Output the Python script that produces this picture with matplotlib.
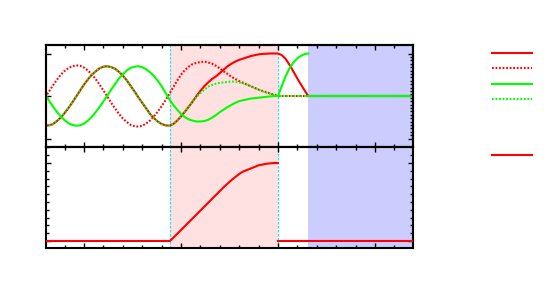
import numpy as np
import matplotlib
matplotlib.use("Agg")
import matplotlib.pyplot as plt
from matplotlib.ticker import MultipleLocator, FixedLocator

# time axis (major tick every 5)
t = [-2.0, -1.8, -1.6, -1.4, -1.2, -1.0, -0.8, -0.6, -0.4, -0.2,
     0.0, 0.2, 0.4, 0.6, 0.8, 1.0, 1.2, 1.4, 1.6, 1.8,
     2.0, 2.2, 2.4, 2.6, 2.8, 3.0, 3.2, 3.4, 3.6, 3.8,
     4.0, 4.2, 4.4, 4.6, 4.8, 5.0, 5.2, 5.4, 5.6, 5.8,
     6.0, 6.2, 6.4, 6.6, 6.8, 7.0, 7.2, 7.4, 7.6, 7.8,
     8.0, 8.2, 8.4, 8.6, 8.8, 9.0, 9.2, 9.4, 9.6, 9.8, 10.0]

red_solid = [-0.70, -0.69, -0.66, -0.59, -0.51, -0.40, -0.28, -0.15, -0.01, 0.13,
             0.27, 0.39, 0.50, 0.58, 0.65, 0.69, 0.70, 0.68, 0.64, 0.57,
             0.48, 0.37, 0.24, 0.11, -0.03, -0.16, -0.29, -0.42, -0.52, -0.60,
             -0.66, -0.69, -0.70, -0.66, -0.58, -0.48, -0.37, -0.25, -0.13, 0.00,
             0.12, 0.23, 0.32, 0.40, 0.46, 0.54, 0.62, 0.70, 0.76, 0.81,
             0.85, 0.88, 0.91, 0.94, 0.96, 0.98, 0.99, 0.995, 1.0, 1.0, 1.0]
red_dotted = [-0.03, 0.11, 0.25, 0.38, 0.50, 0.59, 0.66, 0.70, 0.72, 0.71,
              0.67, 0.60, 0.51, 0.40, 0.27, 0.13, -0.01, -0.16, -0.29, -0.42,
              -0.53, -0.61, -0.68, -0.71, -0.72, -0.70, -0.65, -0.58, -0.48, -0.37,
              -0.24, -0.10, 0.05, 0.21, 0.36, 0.50, 0.61, 0.69, 0.75, 0.78,
              0.80, 0.81, 0.79, 0.76, 0.71, 0.65, 0.58, 0.52, 0.45, 0.40,
              0.35, 0.31, 0.27, 0.23, 0.19, 0.15, 0.12, 0.09, 0.06, 0.03, 0.0]
green_solid = [0.03, -0.11, -0.25, -0.37, -0.48, -0.57, -0.64, -0.68, -0.70, -0.69,
               -0.65, -0.58, -0.49, -0.38, -0.26, -0.13, 0.01, 0.15, 0.28, 0.41,
               0.51, 0.60, 0.66, 0.69, 0.70, 0.68, 0.63, 0.56, 0.47, 0.36,
               0.23, 0.08, -0.08, -0.21, -0.32, -0.42, -0.50, -0.55, -0.58, -0.60,
               -0.60, -0.59, -0.56, -0.51, -0.45, -0.38, -0.32, -0.26, -0.21, -0.16,
               -0.12, -0.10, -0.08, -0.06, -0.05, -0.04, -0.03, -0.02, -0.01, 0.0, 0.0]
# green dotted lies on the red solid curve until t = 5.6
green_dotted = red_solid[:39] + [
    -0.02, 0.07, 0.15, 0.22, 0.26, 0.29, 0.31, 0.32, 0.33, 0.34,
    0.34, 0.32, 0.30, 0.27, 0.23, 0.19, 0.15, 0.11, 0.08, 0.05, 0.02, 0.0]

# after the shaded phase
t_tail = [10.0, 10.2, 10.4, 10.6, 10.8, 11.0, 11.2, 11.4, 11.56]
red_tail = [1.0, 0.96, 0.87, 0.73, 0.57, 0.41, 0.26, 0.11, 0.0]
green_tail = [0.0, 0.24, 0.47, 0.66, 0.79, 0.89, 0.95, 0.99, 1.0]
t_rest = [11.56, 17.0]
rest = [0.0, 0.0]

# bottom panel
t_bottom = [-2.0, 4.43, 4.8, 5.2, 5.6, 6.0, 6.4, 6.8, 7.2, 7.6, 7.8, 8.0,
            8.2, 8.4, 8.6, 8.8, 9.0, 9.2, 9.4, 9.6, 9.8, 10.0]
bottom = [0.0, 0.0, 0.09, 0.19, 0.29, 0.39, 0.49, 0.59, 0.69, 0.78, 0.82, 0.86,
          0.89, 0.91, 0.93, 0.95, 0.97, 0.98, 0.99, 0.995, 1.0, 1.0]
t_bottom_rest = [10.0, 17.0]
bottom_rest = [0.0, 0.0]

phase1 = (4.43, 10.0)
phase2 = (11.56, 17.0)
xlim = (-1.96, 16.96)

RED = "#ff0000"
GREEN = "#00ff00"
PINK = "#ffe1e1"
BLUE = "#ccccff"
CYAN = "#33ddee"

fig = plt.figure(figsize=(5.5, 2.95), dpi=100)
ax1 = fig.add_axes([46 / 550, 1 - 147 / 295, 367 / 550, 102 / 295])
ax2 = fig.add_axes([46 / 550, 1 - 248 / 295, 367 / 550, 101 / 295])

for ax in (ax1, ax2):
    ax.axvspan(*phase1, color=PINK, lw=0, zorder=0)
    ax.axvspan(*phase2, color=BLUE, lw=0, zorder=0)
    for xv in phase1[0], phase1[1]:
        ax.axvline(xv, color=CYAN, lw=0.9, ls=(0, (2, 1.2)), zorder=1)
    ax.set_xlim(*xlim)
    ax.xaxis.set_major_locator(MultipleLocator(5))
    ax.xaxis.set_minor_locator(MultipleLocator(1))
    ax.tick_params(which="both", direction="in", top=True, bottom=True,
                   left=True, right=True, labelbottom=False, labelleft=False,
                   width=1.0, color="black")
    ax.tick_params(which="major", length=3.8)
    ax.tick_params(which="minor", length=2.2)
    for s in ax.spines.values():
        s.set_linewidth(1.5)

dots = (0, (0.85, 0.85))
lw = 1.5

l1, = ax1.plot(t + t_tail[1:] + t_rest[1:], red_solid + red_tail[1:] + rest[1:],
               color=RED, lw=lw, zorder=3)
l2, = ax1.plot(t + [17.0], red_dotted + [0.0], color=RED, lw=lw, ls=dots,
               zorder=3)
l3, = ax1.plot(t + t_tail[1:] + [np.nan] + t_rest,
               green_solid + green_tail[1:] + [np.nan] + rest,
               color=GREEN, lw=lw, zorder=3)
l4, = ax1.plot(t + [17.0], green_dotted + [0.0], color=GREEN, lw=lw, ls=dots,
               zorder=3)

ax1.set_ylim(-1.2, 1.2)
ax1.yaxis.set_major_locator(FixedLocator([-1, 0, 1]))
ax1.yaxis.set_minor_locator(FixedLocator([]))
ax1.tick_params(which="both", right=False)
ax1r = ax1.twinx()
ax1r.set_ylim(-1.2, 1.2)
ax1r.yaxis.set_major_locator(FixedLocator([-1, 1]))
ax1r.yaxis.set_minor_locator(FixedLocator(np.linspace(-1, 1, 26)))
ax1r.tick_params(which="both", direction="in", labelright=False, width=1.0)
ax1r.tick_params(which="major", length=3.8)
ax1r.tick_params(which="minor", length=2.2)
for s in ax1r.spines.values():
    s.set_linewidth(1.5)

l5, = ax2.plot(t_bottom + [np.nan] + t_bottom_rest,
               bottom + [np.nan] + bottom_rest, color=RED, lw=lw, zorder=3)
ax2.set_ylim(-0.09, 1.205)
ax2.yaxis.set_major_locator(MultipleLocator(1))
ax2.yaxis.set_minor_locator(MultipleLocator(0.1))

leg_kw = dict(frameon=False, fontsize=8, handlelength=3.6, handletextpad=0,
              borderpad=0, borderaxespad=0, labelspacing=0.48,
              loc="upper left", bbox_transform=fig.transFigure)
fig.legend([l1, l2, l3, l4], ["", "", "", ""],
           bbox_to_anchor=(492 / 550, 1 - 49 / 295), **leg_kw)
fig.legend([l5], [""], bbox_to_anchor=(492 / 550, 1 - 151 / 295), **leg_kw)

fig.savefig("out.png", dpi=100)
